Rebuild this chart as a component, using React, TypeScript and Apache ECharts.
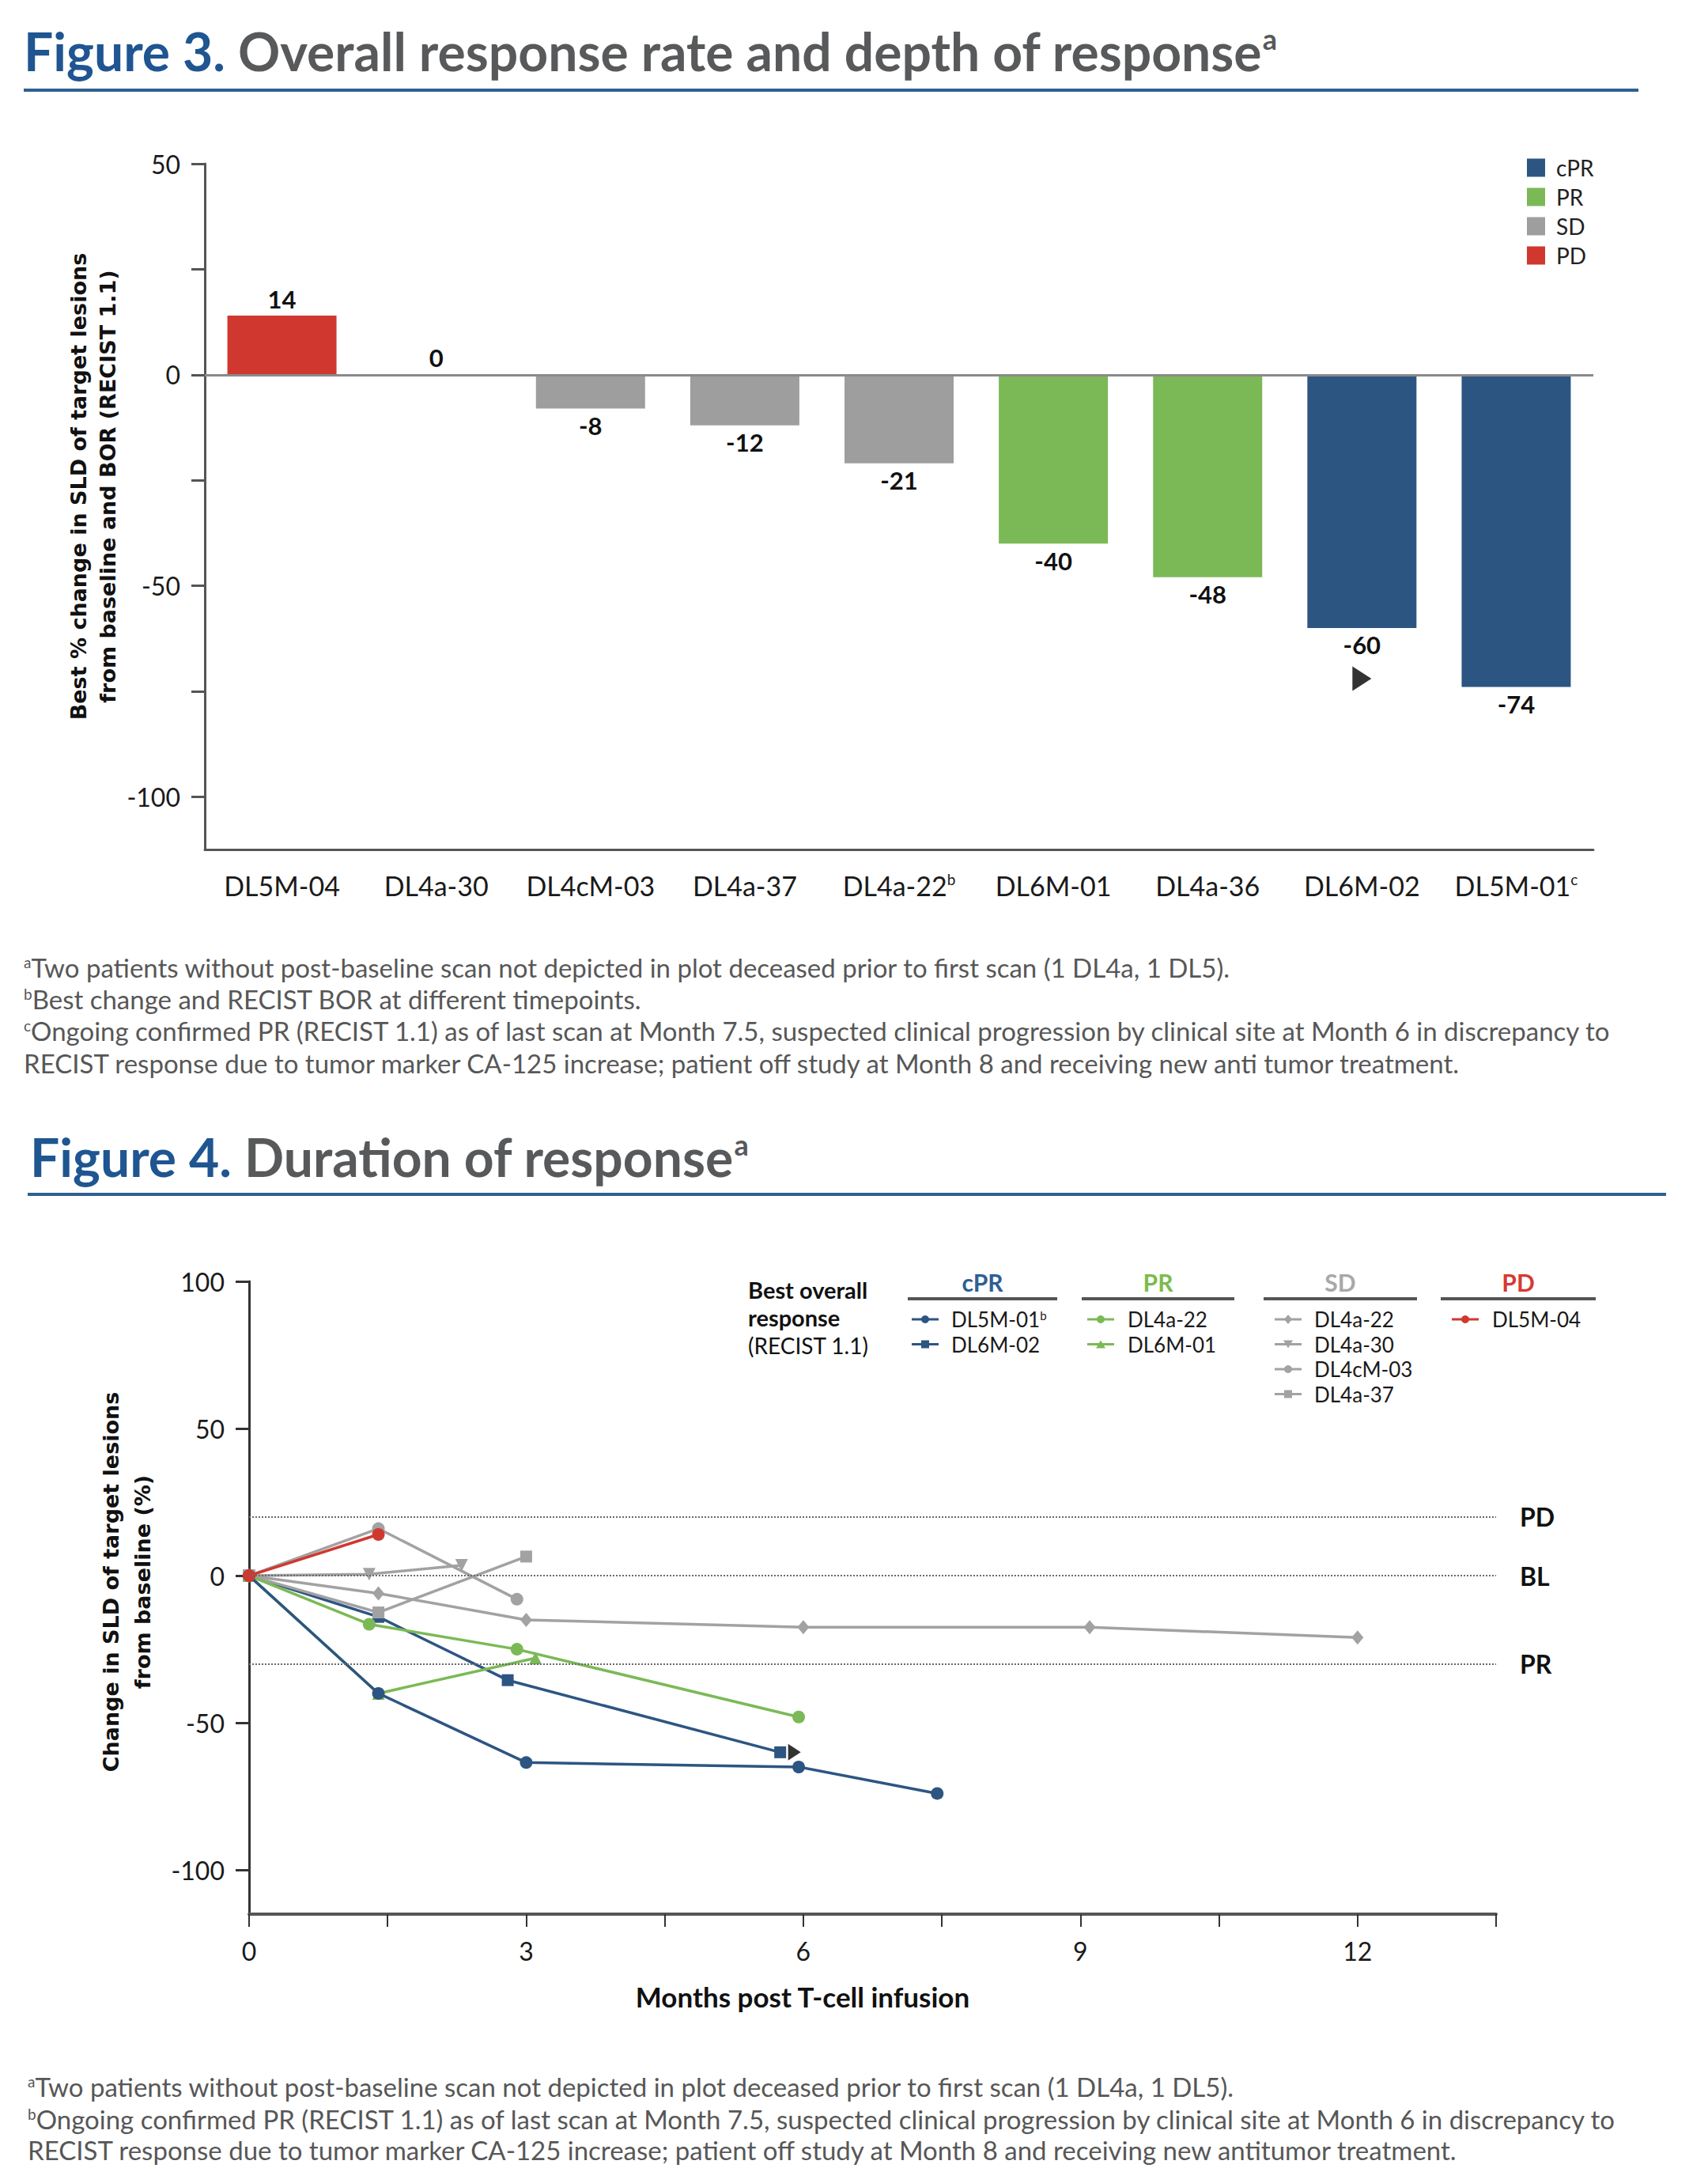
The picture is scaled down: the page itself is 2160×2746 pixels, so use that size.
import React, { useEffect, useRef } from "react";
import * as echarts from "echarts";

// ---------- Figure 3 data ----------
const barCategories = ["DL5M-04", "DL4a-30", "DL4cM-03", "DL4a-37", "DL4a-22", "DL6M-01", "DL4a-36", "DL6M-02", "DL5M-01"];
const barSuperscripts = ["", "", "", "", "b", "", "", "", "c"];
const barValues = [14, 0, -8, -12, -21, -40, -48, -60, -74];
const barResponses = ["PD", "SD", "SD", "SD", "SD", "PR", "PR", "cPR", "cPR"];
const responseOrder = ["cPR", "PR", "SD", "PD"];
const barYTicks = [50, 25, 0, -25, -50, -75, -100];
const barYLabels = [50, 0, -50, -100];
const barArrow = [["DL6M-02", -72]];

// ---------- Figure 4 data ----------
const doeXTicks = [0, 1.5, 3, 4.5, 6, 7.5, 9, 10.5, 12, 13.5];
const doeXLabels = [0, 3, 6, 9, 12];
const doeYTicks = [100, 50, 0, -50, -100];
const doeYLabels = [100, 50, 0, -50, -100];
const refLineNames = ["PD", "BL", "PR"];
const refLineValues = [20, 0, -30];

const dl6m02Months = [0, 1.4, 2.8, 5.75];
const dl6m02Change = [0, -14, -35.5, -60];
const dl4a22SdMonths = [0, 1.4, 3.0, 6.0, 9.1, 12.0];
const dl4a22SdChange = [0, -6, -15, -17.5, -17.5, -21];
const dl4a30Months = [0, 1.3, 2.3];
const dl4a30Change = [0, 0.5, 3.5];
const dl4cm03Months = [0, 1.4, 2.9];
const dl4cm03Change = [0, 16, -8];
const dl4a37Months = [0, 1.4, 3.0];
const dl4a37Change = [0, -12.5, 6.5];
const dl4a22PrMonths = [0, 1.3, 2.9, 5.95];
const dl4a22PrChange = [0, -16.5, -25, -48];
const dl6m01Months = [0, 1.4, 3.1];
const dl6m01Change = [0, -40, -28];
const dl5m01Months = [0, 1.4, 3.0, 5.95, 7.45];
const dl5m01Change = [0, -40, -63.5, -65, -74];
const dl5m04Months = [0, 1.4];
const dl5m04Change = [0, 14];
const doeArrow = [[5.75, -60]];

const COLORS: Record<string, string> = {
  cPR: "#2d5582",
  PR: "#7bb956",
  SD: "#a2a2a2",
  PD: "#d0382f",
};
const HEADER_COLORS: Record<string, string> = {
  cPR: "#2f5f93",
  PR: "#7bbb4c",
  SD: "#a8a8a8",
  PD: "#d63a31",
};

const patients = [
  { name: "DL6M-02", group: "cPR", symbol: "rect", months: dl6m02Months, change: dl6m02Change },
  { name: "DL4a-22 (SD)", group: "SD", symbol: "diamond", months: dl4a22SdMonths, change: dl4a22SdChange },
  { name: "DL4a-30", group: "SD", symbol: "triangleDown", months: dl4a30Months, change: dl4a30Change },
  { name: "DL4cM-03", group: "SD", symbol: "circle", months: dl4cm03Months, change: dl4cm03Change },
  { name: "DL4a-37", group: "SD", symbol: "rect", months: dl4a37Months, change: dl4a37Change },
  { name: "DL4a-22 (PR)", group: "PR", symbol: "circle", months: dl4a22PrMonths, change: dl4a22PrChange },
  { name: "DL6M-01", group: "PR", symbol: "triangle", months: dl6m01Months, change: dl6m01Change },
  { name: "DL5M-01", group: "cPR", symbol: "circle", months: dl5m01Months, change: dl5m01Change },
  { name: "DL5M-04", group: "PD", symbol: "circle", months: dl5m04Months, change: dl5m04Change },
];

const legendGroups = [
  { title: "cPR", items: [{ label: "DL5M-01", sup: "b", symbol: "circle" }, { label: "DL6M-02", sup: "", symbol: "rect" }] },
  { title: "PR", items: [{ label: "DL4a-22", sup: "", symbol: "circle" }, { label: "DL6M-01", sup: "", symbol: "triangle" }] },
  {
    title: "SD",
    items: [
      { label: "DL4a-22", sup: "", symbol: "diamond" },
      { label: "DL4a-30", sup: "", symbol: "triangleDown" },
      { label: "DL4cM-03", sup: "", symbol: "circle" },
      { label: "DL4a-37", sup: "", symbol: "rect" },
    ],
  },
  { title: "PD", items: [{ label: "DL5M-04", sup: "", symbol: "circle" }] },
];

const fig3Notes = [
  { sup: "a", text: "Two patients without post-baseline scan not depicted in plot deceased prior to first scan (1 DL4a, 1 DL5)." },
  { sup: "b", text: "Best change and RECIST BOR at different timepoints." },
  { sup: "c", text: "Ongoing confirmed PR (RECIST 1.1) as of last scan at Month 7.5, suspected clinical progression by clinical site at Month 6 in discrepancy to" },
  { sup: "", text: "RECIST response due to tumor marker CA-125 increase; patient off study at Month 8 and receiving new anti tumor treatment." },
];
const fig4Notes = [
  { sup: "a", text: "Two patients without post-baseline scan not depicted in plot deceased prior to first scan (1 DL4a, 1 DL5)." },
  { sup: "b", text: "Ongoing confirmed PR (RECIST 1.1) as of last scan at Month 7.5, suspected clinical progression by clinical site at Month 6 in discrepancy to" },
  { sup: "", text: "RECIST response due to tumor marker CA-125 increase; patient off study at Month 8 and receiving new antitumor treatment." },
];

// ---------- layout ----------
const FONT = "Lato, 'Open Sans', sans-serif";
const VFONT = "'DejaVu Sans', Verdana, sans-serif";
const AXIS_COLOR = "#555";
const TEXT_COLOR = "#1a1a1a";
const NOTE_COLOR = "#575757";
const TITLE_SIZE = 66;
const NOTE_SIZE = 33;
const LEGEND_SIZE = 26;

function legendSymbol(symbol: string, cx: number, cy: number, color: string, s: number): any {
  const h = s / 2;
  switch (symbol) {
    case "circle":
      return { type: "circle", shape: { cx, cy, r: h }, style: { fill: color } };
    case "rect":
      return { type: "rect", shape: { x: cx - h, y: cy - h, width: s, height: s }, style: { fill: color } };
    case "diamond":
      return { type: "polygon", shape: { points: [[cx, cy - h - 1], [cx + h, cy], [cx, cy + h + 1], [cx - h, cy]] }, style: { fill: color } };
    case "triangle":
      return { type: "polygon", shape: { points: [[cx, cy - h], [cx + h + 1, cy + h], [cx - h - 1, cy + h]] }, style: { fill: color } };
    default:
      return { type: "polygon", shape: { points: [[cx - h - 1, cy - h], [cx + h + 1, cy - h], [cx, cy + h]] }, style: { fill: color } };
  }
}

function buildGraphics(): any[] {
  const g: any[] = [];
  const title = (x: number, y: number, lead: string, rest: string) => ({
    type: "text",
    x,
    y,
    style: {
      text: `{b|${lead}} {g|${rest}}{s|a}`,
      fontFamily: FONT,
      fontWeight: "bold",
      fontSize: TITLE_SIZE,
      fill: "#58595b",
      verticalAlign: "middle",
      rich: {
        b: { fontFamily: FONT, fontWeight: "bold", fontSize: TITLE_SIZE, fill: "#1f5591" },
        g: { fontFamily: FONT, fontWeight: "bold", fontSize: TITLE_SIZE, fill: "#58595b" },
        s: { fontFamily: FONT, fontWeight: "bold", fontSize: 36, fill: "#58595b", verticalAlign: "top" },
      },
    },
  });
  g.push(title(30, 64, "Figure 3.", "Overall response rate and depth of response"));
  g.push({ type: "line", shape: { x1: 30, y1: 114, x2: 2072, y2: 114 }, style: { stroke: "#2f5f8f", lineWidth: 4 } });
  g.push(title(38, 1462, "Figure 4.", "Duration of response"));
  g.push({ type: "line", shape: { x1: 35, y1: 1510, x2: 2107, y2: 1510 }, style: { stroke: "#2f5f8f", lineWidth: 4 } });

  const note = (x: number, y: number, n: { sup: string; text: string }) => ({
    type: "text",
    x,
    y,
    style: {
      text: n.sup ? `{s|${n.sup}}{t|${n.text}}` : `{t|${n.text}}`,
      fontFamily: FONT,
      fontSize: NOTE_SIZE,
      fill: NOTE_COLOR,
      verticalAlign: "middle",
      rich: {
        s: { fontFamily: FONT, fontSize: 19, fill: NOTE_COLOR, verticalAlign: "top" },
        t: { fontFamily: FONT, fontSize: NOTE_SIZE, fill: NOTE_COLOR },
      },
    },
  });
  const n3y = [1223, 1263, 1303, 1344];
  fig3Notes.forEach((n, i) => g.push(note(30, n3y[i], n)));
  const n4y = [2638, 2679, 2718];
  fig4Notes.forEach((n, i) => g.push(note(35, n4y[i], n)));

  // y-axis titles
  g.push({
    type: "text",
    x: 118,
    y: 615,
    rotation: Math.PI / 2,
    style: {
      text: "Best % change in SLD of target lesions\nfrom baseline and BOR (RECIST 1.1)",
      fontFamily: VFONT,
      fontWeight: "bold",
      fontSize: 27,
      lineHeight: 37,
      fill: "#111",
      align: "center",
      verticalAlign: "middle",
    },
  });
  g.push({
    type: "text",
    x: 160,
    y: 2000,
    rotation: Math.PI / 2,
    style: {
      text: "Change in SLD of target lesions\nfrom baseline (%)",
      fontFamily: VFONT,
      fontWeight: "bold",
      fontSize: 27,
      lineHeight: 40,
      fill: "#111",
      align: "center",
      verticalAlign: "middle",
    },
  });
  g.push({
    type: "text",
    x: 1015,
    y: 2524,
    style: {
      text: "Months post T-cell infusion",
      fontFamily: FONT,
      fontWeight: "bold",
      fontSize: 35,
      fill: "#111",
      align: "center",
      verticalAlign: "middle",
    },
  });

  // Figure 4 legend
  g.push({
    type: "text",
    x: 946,
    y: 1613,
    style: {
      text: "{b|Best overall}\n{b|response}\n{r|(RECIST 1.1)}",
      fontFamily: FONT,
      fontSize: 29,
      fill: "#111",
      lineHeight: 35,
      verticalAlign: "top",
      rich: {
        b: { fontFamily: FONT, fontWeight: "bold", fontSize: 29, fill: "#111", lineHeight: 35 },
        r: { fontFamily: FONT, fontSize: 28, fill: "#111", lineHeight: 35 },
      },
    },
  });
  const groupX = [
    { r1: 1148, r2: 1337, sx: 1153, tx: 1203 },
    { r1: 1368, r2: 1561, sx: 1375, tx: 1426 },
    { r1: 1598, r2: 1792, sx: 1612, tx: 1662 },
    { r1: 1822, r2: 2018, sx: 1836, tx: 1887 },
  ];
  const rowTop = 1668;
  const rowStep = 31.5;
  legendGroups.forEach((grp, gi) => {
    const L = groupX[gi];
    const color = COLORS[grp.title];
    g.push({
      type: "text",
      x: (L.r1 + L.r2) / 2,
      y: 1621,
      style: {
        text: grp.title,
        fontFamily: FONT,
        fontWeight: "bold",
        fontSize: 30,
        fill: HEADER_COLORS[grp.title],
        align: "center",
        verticalAlign: "middle",
      },
    });
    g.push({ type: "line", shape: { x1: L.r1, y1: 1642, x2: L.r2, y2: 1642 }, style: { stroke: "#555", lineWidth: 4 } });
    grp.items.forEach((it, ii) => {
      const y = rowTop + ii * rowStep;
      g.push({ type: "line", shape: { x1: L.sx, y1: y, x2: L.sx + 34, y2: y }, style: { stroke: color, lineWidth: 3 } });
      g.push(legendSymbol(it.symbol, L.sx + 17, y, color, 10));
      g.push({
        type: "text",
        x: L.tx,
        y,
        style: {
          text: it.sup ? `{t|${it.label}}{s|${it.sup}}` : `{t|${it.label}}`,
          fontFamily: FONT,
          fontSize: LEGEND_SIZE,
          fill: "#1a1a1a",
          verticalAlign: "middle",
          rich: {
            t: { fontFamily: FONT, fontSize: LEGEND_SIZE, fill: "#1a1a1a" },
            s: { fontFamily: FONT, fontSize: 15, fill: "#1a1a1a", verticalAlign: "top" },
          },
        },
      });
    });
  });
  return g;
}

function buildOption(): any {
  const barSeries = responseOrder.map((r, si) => ({
    type: "bar",
    name: r,
    xAxisIndex: 0,
    yAxisIndex: 0,
    barWidth: 138,
    barGap: "-100%",
    itemStyle: { color: r === "SD" ? "#9e9e9e" : COLORS[r] },
    label: {
      show: true,
      fontFamily: FONT,
      fontWeight: "bold",
      fontSize: 31,
      color: "#111",
      distance: 6,
    },
    data: barValues.map((v, i) =>
      barResponses[i] === r ? { value: v, label: { position: v >= 0 ? "top" : "bottom" } } : "-"
    ),
    markLine:
      si === 0
        ? {
            silent: true,
            symbol: ["none", "none"],
            label: { show: false },
            lineStyle: { color: "#8a8a8a", width: 3, type: "solid" },
            data: [{ yAxis: 0 }],
          }
        : undefined,
    z: 2,
  }));

  const arrow3 = {
    type: "scatter",
    xAxisIndex: 0,
    yAxisIndex: 0,
    data: barArrow,
    symbol: "triangle",
    symbolRotate: -90,
    symbolSize: [31, 24],
    itemStyle: { color: "#000" },
    silent: true,
    z: 5,
  };

  const lineSeries = patients.map((p, pi) => ({
    type: "line",
    name: p.name,
    xAxisIndex: 1,
    yAxisIndex: 1,
    data: p.months.map((m, i) => [m, p.change[i]]),
    symbol: p.symbol === "triangleDown" ? "triangle" : p.symbol,
    symbolRotate: p.symbol === "triangleDown" ? 180 : 0,
    symbolSize: p.symbol === "diamond" ? [15, 18] : p.symbol === "rect" ? 15 : 16,
    showAllSymbol: true,
    lineStyle: { color: COLORS[p.group], width: 3.5 },
    itemStyle: { color: COLORS[p.group] },
    silent: true,
    z: 3 + pi * 0.1,
    markLine:
      pi === 0
        ? {
            silent: true,
            symbol: ["none", "none"],
            lineStyle: { color: "#6a6a6a", width: 2, type: "dotted" },
            label: {
              show: true,
              position: "end",
              distance: 30,
              formatter: "{b}",
              fontFamily: FONT,
              fontWeight: "bold",
              fontSize: 32,
              color: "#111",
            },
            data: refLineValues.map((v, i) => ({ yAxis: v, name: refLineNames[i] })),
          }
        : undefined,
  }));

  const arrow4 = {
    type: "scatter",
    xAxisIndex: 1,
    yAxisIndex: 1,
    data: doeArrow,
    symbol: "triangle",
    symbolRotate: -90,
    symbolSize: [21, 16],
    symbolOffset: [18, 0],
    itemStyle: { color: "#000" },
    silent: true,
    z: 6,
  };

  const axisLineStyle = { color: AXIS_COLOR, width: 3 };

  return {
    animation: false,
    backgroundColor: "#ffffff",
    textStyle: { fontFamily: FONT },
    grid: [
      { left: 259, top: 207, width: 1756, height: 867 },
      { left: 315, top: 1620, width: 1577, height: 800 },
    ],
    legend: {
      data: responseOrder.map((n) => ({ name: n, icon: "rect" })),
      orient: "vertical",
      left: 1931,
      top: 198,
      padding: 0,
      itemWidth: 23,
      itemHeight: 23,
      itemGap: 9,
      selectedMode: false,
      textStyle: { fontFamily: FONT, fontSize: 28, color: "#222", padding: [0, 0, 0, 9] },
    },
    xAxis: [
      {
        type: "category",
        gridIndex: 0,
        data: barCategories,
        axisLine: { onZero: false, lineStyle: axisLineStyle },
        axisTick: { alignWithLabel: true, length: 16, lineStyle: { color: AXIS_COLOR, width: 3 } },
        axisLabel: {
          margin: 28,
          interval: 0,
          fontFamily: FONT,
          fontSize: 34,
          color: TEXT_COLOR,
          formatter: (value: string, idx: number) =>
            barSuperscripts[idx] ? `{n|${value}}{s|${barSuperscripts[idx]}}` : `{n|${value}}`,
          rich: {
            n: { fontFamily: FONT, fontSize: 34, color: TEXT_COLOR },
            s: { fontFamily: FONT, fontSize: 19, color: TEXT_COLOR, verticalAlign: "top" },
          },
        },
        splitLine: { show: false },
      },
      {
        type: "value",
        gridIndex: 1,
        min: 0,
        max: 13.5,
        axisLine: { show: true, onZero: false, lineStyle: { color: AXIS_COLOR, width: 4 } },
        axisTick: { show: true, customValues: doeXTicks, length: 16, lineStyle: { color: "#333", width: 2 } },
        axisLabel: { customValues: doeXLabels, margin: 30, fontFamily: FONT, fontSize: 32, color: TEXT_COLOR },
        splitLine: { show: false },
      },
    ],
    yAxis: [
      {
        type: "value",
        gridIndex: 0,
        min: -112.5,
        max: 50,
        axisLine: { show: true, onZero: false, lineStyle: axisLineStyle },
        axisTick: { show: true, customValues: barYTicks, length: 17, lineStyle: { color: AXIS_COLOR, width: 3 } },
        axisLabel: { customValues: barYLabels, margin: 31, fontFamily: FONT, fontSize: 32, color: TEXT_COLOR },
        splitLine: { show: false },
      },
      {
        type: "value",
        gridIndex: 1,
        min: -115,
        max: 100,
        axisLine: { show: true, onZero: false, lineStyle: { color: "#333", width: 3 } },
        axisTick: { show: true, customValues: doeYTicks, length: 17, lineStyle: { color: "#333", width: 3 } },
        axisLabel: { customValues: doeYLabels, margin: 31, fontFamily: FONT, fontSize: 32, color: TEXT_COLOR },
        splitLine: { show: false },
      },
    ],
    series: [...barSeries, arrow3, ...lineSeries, arrow4],
    graphic: { elements: buildGraphics() },
  };
}

export default function App() {
  const ref = useRef<HTMLDivElement>(null);
  useEffect(() => {
    if (!ref.current) return;
    const chart = echarts.init(ref.current, null, { renderer: "svg" });
    chart.setOption(buildOption());
    return () => chart.dispose();
  }, []);
  return (
    <div
      ref={ref}
      style={{ position: "absolute", left: 0, top: 0, width: 2160, height: 2746, background: "#fff" }}
    />
  );
}
